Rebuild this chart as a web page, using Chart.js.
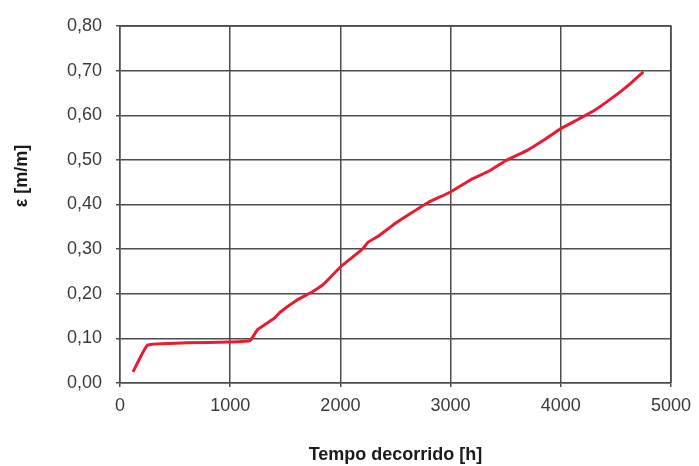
<!DOCTYPE html>
<html>
<head>
<meta charset="utf-8">
<script src="https://cdn.jsdelivr.net/npm/chart.js@4"></script>
<style>
  html, body { margin: 0; padding: 0; background: #fff; }
  #wrap { width: 699px; height: 466px; }
</style>
</head>
<body>
<div id="wrap"><canvas id="strainChart"></canvas></div>
<script>
var hours = [118, 250, 600, 1000, 1180, 1250, 1400, 1450, 1600, 1750, 1850, 2000, 2100, 2200, 2250, 2350, 2500, 2650, 2800, 3000, 3200, 3350, 3500, 3700, 3850, 4000, 4150, 4300, 4500, 4650, 4750];
var strain = [0.025, 0.085, 0.090, 0.092, 0.095, 0.120, 0.145, 0.158, 0.185, 0.205, 0.222, 0.260, 0.280, 0.300, 0.315, 0.330, 0.358, 0.382, 0.405, 0.428, 0.458, 0.475, 0.498, 0.522, 0.545, 0.570, 0.590, 0.610, 0.645, 0.675, 0.697];
var xTicks = [0, 1000, 2000, 3000, 4000, 5000];
var yTicks = [0, 0.1, 0.2, 0.3, 0.4, 0.5, 0.6, 0.7, 0.8];
var yTitle = 'ε [m/m]';

var points = hours.map(function (h, i) {
    return { x: h, y: strain[i] };
});

var gridColor = '#4d4d4d';
var tickFont = { family: 'Liberation Sans, Arial, sans-serif', size: 18 };
var titleFont = { family: 'Liberation Sans, Arial, sans-serif', size: 18, weight: 'bold' };

// y title sits a bit above the middle of the plot in the original, so draw it by hand
var yTitlePlugin = {
    id: 'yTitle',
    afterDraw: function (chart) {
        var a = chart.chartArea;
        var c = chart.ctx;
        c.save();
        c.translate(22, a.top + (a.bottom - a.top) * 0.42);
        c.rotate(-Math.PI / 2);
        c.font = 'bold 18px "Liberation Sans", Arial, sans-serif';
        c.fillStyle = '#1a1a1a';
        c.textAlign = 'center';
        c.textBaseline = 'middle';
        c.fillText(yTitle, 0, 0);
        c.restore();
    }
};

var framePlugin = {
    id: 'rightTopBorder',
    afterDraw: function (chart) {
        var a = chart.chartArea;
        var c = chart.ctx;
        c.save();
        c.strokeStyle = gridColor;
        c.lineWidth = 1.5;
        c.beginPath();
        c.moveTo(a.left, a.top);
        c.lineTo(a.right, a.top);
        c.lineTo(a.right, a.bottom);
        c.stroke();
        c.restore();
    }
};

var ctx = document.getElementById('strainChart').getContext('2d');
window.strainChart = new Chart(ctx, {
    type: 'line',
    data: {
        datasets: [{
            data: points,
            borderColor: 'rgb(232,28,48)',
            borderWidth: 3,
            pointRadius: 0,
            tension: 0.1,
            fill: false
        }]
    },
    options: {
        responsive: true,
        maintainAspectRatio: false,
        animation: false,
        layout: {
            padding: { left: 0, top: 26, right: 26, bottom: 0 }
        },
        plugins: {
            legend: { display: false },
            tooltip: { enabled: false }
        },
        scales: {
            x: {
                type: 'linear',
                min: 0,
                max: 5000,
                afterBuildTicks: function (axis) {
                    axis.ticks = xTicks.map(function (v) { return { value: v }; });
                },
                afterFit: function (axis) { axis.height = 83; },
                grid: { color: gridColor, lineWidth: 1.5, tickLength: 4 },
                border: { color: gridColor, width: 1.5 },
                ticks: {
                    color: '#3a3a3a',
                    font: tickFont,
                    padding: 8,
                    maxRotation: 0,
                    callback: function (v) { return String(v); }
                },
                title: {
                    display: true,
                    text: 'Tempo decorrido [h]',
                    color: '#1a1a1a',
                    font: titleFont,
                    padding: { top: 4, bottom: 0 }
                }
            },
            y: {
                min: 0,
                max: 0.8,
                afterBuildTicks: function (axis) {
                    axis.ticks = yTicks.map(function (v) { return { value: v }; });
                },
                afterFit: function (axis) { axis.width = 120; },
                grid: { color: gridColor, lineWidth: 1.5, tickLength: 4 },
                border: { color: gridColor, width: 1.5 },
                ticks: {
                    color: '#3a3a3a',
                    font: tickFont,
                    padding: 14,
                    callback: function (v) { return v.toFixed(2).replace('.', ','); }
                }
            }
        }
    },
    plugins: [framePlugin, yTitlePlugin]
});
</script>
</body>
</html>
